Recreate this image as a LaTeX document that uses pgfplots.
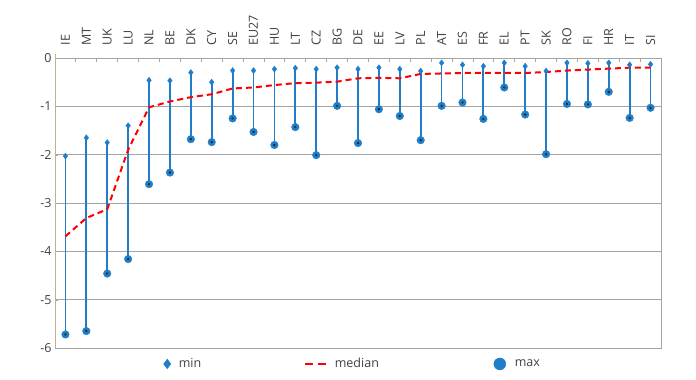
\documentclass[border=0pt]{standalone}
\usepackage{pgfplots}
\pgfplotsset{compat=1.18}
\usepackage{pgfplotstable}
\usepackage{fontspec}
\setmainfont{Open Sans}
\definecolor{bl}{RGB}{32,125,202}
\definecolor{txt}{RGB}{64,64,64}
\definecolor{grd}{RGB}{165,165,165}
\definecolor{tan}{RGB}{190,178,140}
\pgfplotstableread{
x mn mx med
0 -2.03 -5.72 -3.69
1 -1.65 -5.65 -3.31
2 -1.75 -4.46 -3.13
3 -1.40 -4.16 -1.90
4 -0.46 -2.61 -1.02
5 -0.47 -2.37 -0.90
6 -0.30 -1.68 -0.81
7 -0.50 -1.74 -0.75
8 -0.26 -1.25 -0.63
9 -0.26 -1.53 -0.61
10 -0.23 -1.80 -0.56
11 -0.21 -1.43 -0.52
12 -0.23 -2.01 -0.51
13 -0.20 -0.99 -0.49
14 -0.23 -1.76 -0.42
15 -0.20 -1.06 -0.41
16 -0.23 -1.20 -0.42
17 -0.27 -1.70 -0.33
18 -0.10 -0.99 -0.32
19 -0.14 -0.92 -0.31
20 -0.17 -1.26 -0.31
21 -0.10 -0.61 -0.31
22 -0.17 -1.17 -0.31
23 -0.27 -1.99 -0.29
24 -0.10 -0.95 -0.26
25 -0.11 -0.96 -0.24
26 -0.10 -0.70 -0.22
27 -0.14 -1.24 -0.20
28 -0.13 -1.03 -0.20
}\data
\begin{document}
\begin{tikzpicture}
\useasboundingbox (0,0) rectangle (696pt,380pt);
\begin{axis}[
  at={(55pt,32pt)}, anchor=south west,
  scale only axis, width=606pt, height=290pt,
  xmin=-0.5, xmax=28.5, ymin=-6, ymax=0,
  xtick={0,...,28},
  xticklabels={IE,MT,UK,LU,NL,BE,DK,CY,SE,{EU27\hspace{8pt}},HU,LT,CZ,BG,DE,EE,LV,PL,AT,ES,FR,EL,PT,SK,RO,FI,HR,IT,SI},
  xtick pos=right, xticklabel pos=right,
  major x tick style={draw=none},
  minor xtick={-0.5,0.5,...,28.5},
  minor x tick style={draw=grd, line width=0.8pt},
  minor tick length=4pt,
  xticklabel shift=9pt,
  xticklabel style={rotate=90, anchor=west, font=\fontsize{12.5}{12.5}\selectfont, text=txt},
  ytick={0,-1,-2,-3,-4,-5,-6},
  yticklabels={0,-1,-2,-3,-4,-5,-6},
  ytick pos=left,
  major y tick style={draw=grd},
  major tick length=3pt,
  yticklabel style={font=\fontsize{12.5}{12.5}\selectfont, text=txt},
  ymajorgrids, grid style={draw=grd, line width=0.9pt},
  axis line style={draw=grd, line width=0.9pt},
  tick label style={/pgf/number format/assume math mode=true},
  legend columns=3,
  legend style={at={(0.174,-0.055)}, anchor=west, draw=none, fill=none,
    font=\fontsize{12.5}{12.5}\selectfont, text=txt},
  clip=false,
]
\draw[tan, line width=1pt] (rel axis cs:0,0) -- ([yshift=4pt]rel axis cs:0,1);
\addplot[draw=none, forget plot, mark=none,
  error bars/.cd, y dir=plus, y explicit,
  error bar style={draw=bl, line width=1.8pt, solid}, error mark=none]
  table[x=x, y=mx, y error expr=\thisrow{mn}-\thisrow{mx}] {\data};
\addplot[red, line width=2pt, dash pattern=on 6pt off 4pt, forget plot]
  table[x=x, y=med] {\data};
\addplot[only marks, mark=diamond*, mark size=3pt, bl, forget plot]
  table[x=x, y=mn] {\data};
\addplot[only marks, mark=*, mark size=3.8pt, draw=bl, fill=bl, forget plot]
  table[x=x, y=mx] {\data};
\addplot[only marks, mark=*, mark size=0.9pt, draw=none, fill=green!50!yellow!80!bl, forget plot]
  table[x=x, y=mx] {\data};
\addlegendimage{only marks, mark=diamond*, mark size=4.8pt, bl}
\addlegendentry{\makebox[129pt][l]{\hspace{6pt}min}}
\addlegendimage{legend image code/.code={\draw[red, line width=2pt, dash pattern=on 8pt off 5pt] (0pt,0pt) -- (22pt,0pt);}}
\addlegendentry{\makebox[162pt][l]{\hspace{5pt}median}}
\addlegendimage{only marks, mark=*, mark size=6pt, bl}
\addlegendentry{\hspace{7pt}max}
\end{axis}
\end{tikzpicture}
\end{document}
